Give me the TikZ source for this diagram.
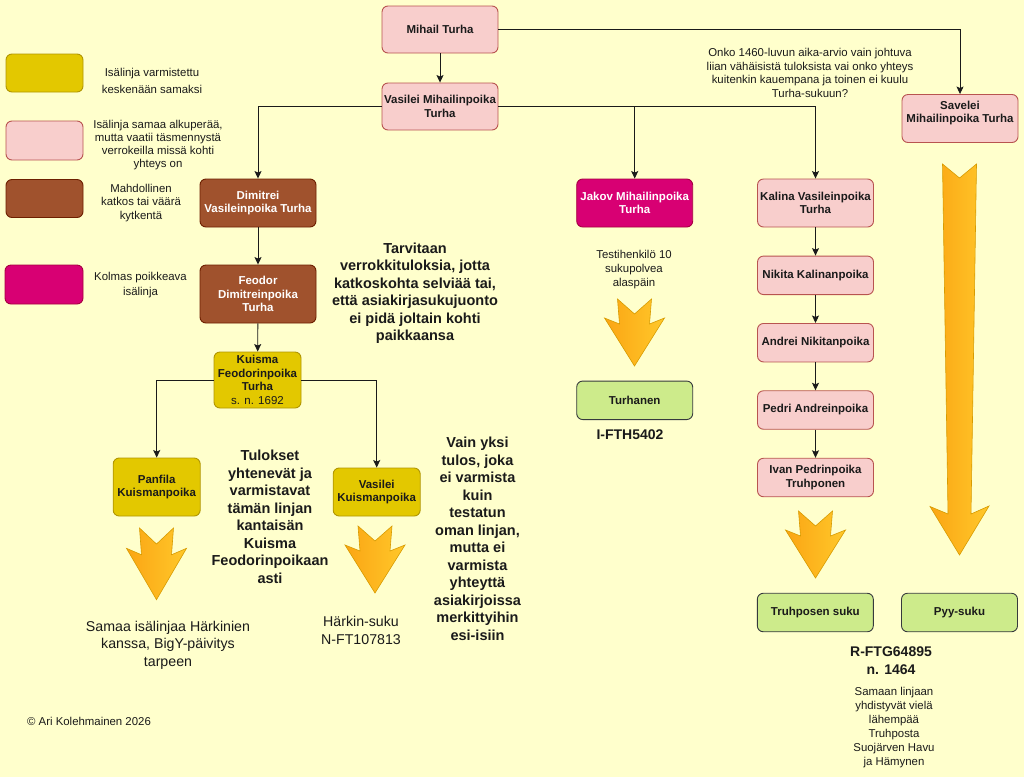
\documentclass[tikz,border=0pt]{standalone}
\usepackage{fontspec}
\setmainfont{Liberation Sans}
\usetikzlibrary{arrows.meta,shadings}
\definecolor{bg}{HTML}{FFFFCC}
\definecolor{pinkF}{HTML}{F8CECC}
\definecolor{pinkD}{HTML}{B85450}
\definecolor{brownF}{HTML}{A0522D}
\definecolor{brownD}{HTML}{6D1F00}
\definecolor{yelF}{HTML}{E3C800}
\definecolor{yelD}{HTML}{B09500}
\definecolor{magF}{HTML}{D80073}
\definecolor{magD}{HTML}{A50040}
\definecolor{grnF}{HTML}{CDEB8B}
\definecolor{grnD}{HTML}{36393D}
\definecolor{arrD}{HTML}{D79B00}
\definecolor{arrL}{HTML}{FBA514}
\definecolor{arrR}{HTML}{FFC82A}
\definecolor{ink}{HTML}{1A1A1A}
\tikzset{
  box/.style={rectangle, rounded corners=6pt, line width=0.9pt, align=center, inner sep=1pt,
    text=ink, font=\bfseries\fontsize{11.5}{13.5}\selectfont},
  pinkbox/.style={box, fill=pinkF, draw=pinkD},
  brownbox/.style={box, fill=brownF, draw=brownD, text=white},
  yelbox/.style={box, fill=yelF, draw=yelD},
  magbox/.style={box, fill=magF, draw=magD, text=white},
  grnbox/.style={box, fill=grnF, draw=grnD},
  wide/.style={minimum width=116pt},
  narrow/.style={minimum width=87pt},
  conn/.style={line width=0.9pt, draw=ink, -{Stealth[length=7.5pt,width=7pt,inset=1.5pt]}},
  note/.style={align=center, inner sep=0pt, text=ink, font=\fontsize{11.4}{13.5}\selectfont},
  bignote/.style={align=center, inner sep=0pt, text=ink, font=\bfseries\fontsize{14.5}{17.5}\selectfont},
  midnote/.style={align=center, inner sep=0pt, text=ink, font=\fontsize{14.2}{17.5}\selectfont},
  blockarrow/.style={draw=arrD, line width=0.6pt, left color=arrL, right color=arrR},
  downchev/.pic={
    \path[blockarrow] (-17,0) -- (0,15) -- (17,0) -- (15,25) -- (30,19) -- (0,67)
      -- (-30,19) -- (-15,25) -- cycle;
  }
}
\begin{document}
\begin{tikzpicture}[x=1pt,y=-1pt]
\useasboundingbox (0,0) rectangle (1024,777);
\fill[bg] (0,0) rectangle (1024,777);

% legend
\node[yelbox, minimum width=77pt, minimum height=38pt] (leg1) at (44.5,73) {};
\node[pinkbox, minimum width=77pt, minimum height=39pt] (leg2) at (44.5,140.5) {};
\node[brownbox, minimum width=77pt, minimum height=38pt] (leg3) at (44.5,198.5) {};
\node[magbox, minimum width=78pt, minimum height=39pt] (leg4) at (44,284.5) {};
\node[note, font=\fontsize{11.4}{17}\selectfont] (leg1t) at (152,80.5) {Isälinja varmistettu\\keskenään samaksi};
\node[note, font=\fontsize{11.4}{12.8}\selectfont] (leg2t) at (158,145) {Isälinja samaa alkuperää,\\mutta vaatii täsmennystä\\verrokeilla missä kohti\\yhteys on};
\node[note, font=\fontsize{11.4}{13.5}\selectfont] (leg3t) at (141,203) {Mahdollinen\\katkos tai väärä\\kytkentä};
\node[note, font=\fontsize{11.4}{14.5}\selectfont] (leg4t) at (140.5,285) {Kolmas poikkeava\\isälinja};

% tree nodes
\node[pinkbox, wide, minimum height=47pt] (mihail) at (440,29.5) {Mihail Turha};
\node[pinkbox, wide, minimum height=47pt] (vasilei) at (440,106.5) {Vasilei Mihailinpoika\\Turha};
\node[pinkbox, wide, minimum height=48pt] (savelei) at (960,118.5) {Savelei\\Mihailinpoika Turha\\\mbox{}};
\node[brownbox, wide, minimum height=48pt] (dimitrei) at (258,203) {Dimitrei\\Vasileinpoika Turha};
\node[brownbox, wide, minimum height=58pt] (feodor) at (258,294) {Feodor\\Dimitreinpoika\\Turha};
\node[yelbox, narrow, minimum height=56pt] (kuisma) at (257.5,380) {Kuisma\\Feodorinpoika\\Turha\\{\mdseries s. n. 1692}};
\node[yelbox, narrow, minimum height=58pt] (panfila) at (156.7,487) {Panfila\\Kuismanpoika};
\node[yelbox, narrow, minimum height=48pt] (vasileik) at (376.7,492) {Vasilei\\Kuismanpoika};
\node[magbox, wide, minimum height=48pt] (jakov) at (634.7,203) {Jakov Mihailinpoika\\Turha};
\node[pinkbox, wide, minimum height=48pt] (kalina) at (815.5,203) {Kalina Vasileinpoika\\Turha};
\node[pinkbox, wide, minimum height=38.5pt] (nikita) at (815.5,275.3) {Nikita Kalinanpoika};
\node[pinkbox, wide, minimum height=38.5pt] (andrei) at (815.5,342.7) {Andrei Nikitanpoika};
\node[pinkbox, wide, minimum height=38.5pt] (pedri) at (815.5,410) {Pedri Andreinpoika};
\node[pinkbox, wide, minimum height=38.5pt] (ivan) at (815.5,477.5) {Ivan Pedrinpoika\\Truhponen};
\node[grnbox, wide, minimum height=38.5pt] (turhanen) at (634.7,400.3) {Turhanen};
\node[grnbox, wide, minimum height=38.5pt] (truhposen) at (815.3,612.5) {Truhposen suku};
\node[grnbox, wide, minimum height=38.5pt] (pyy) at (959.5,612.5) {Pyy-suku};

% connectors
\draw[conn] (mihail) -- (vasilei);
\draw[conn] (mihail.east) -| (savelei.north);
\draw[conn] (vasilei.west) -| (dimitrei.north);
\draw[conn] (vasilei.east) -| (jakov.north);
\draw[conn] (vasilei.east) -| (kalina.north);
\draw[conn] (dimitrei) -- (feodor);
\draw[conn] (feodor) -- (kuisma);
\draw[conn] (kuisma.west) -| (panfila.north);
\draw[conn] (kuisma.east) -| (vasileik.north);
\draw[conn] (kalina) -- (nikita);
\draw[conn] (nikita) -- (andrei);
\draw[conn] (andrei) -- (pedri);
\draw[conn] (pedri) -- (ivan);

% block arrows
\pic at (634.5,299) {downchev};
\pic at (815.5,511) {downchev};
\pic[yscale=1.07] at (156.5,528) {downchev};
\pic at (375,526) {downchev};
\path[blockarrow] (942.5,164) -- (959.5,178) -- (976.5,164) -- (971,514) -- (989,506)
  -- (959.5,555) -- (930,506.5) -- (948,514) -- cycle;

% notes
\node[note] (onko) at (810,73) {Onko 1460-luvun aika-arvio vain johtuva\\liian vähäisistä tuloksista vai onko yhteys\\kuitenkin kauempana ja toinen ei kuulu\\Turha-sukuun?};
\node[bignote] (tarv) at (415,293) {Tarvitaan\\verrokkituloksia, jotta\\katkoskohta selviää tai,\\että asiakirjasukujuonto\\ei pidä joltain kohti\\paikkaansa};
\node[bignote] (tulokset) at (270,517) {Tulokset\\yhtenevät ja\\varmistavat\\tämän linjan\\kantaisän\\Kuisma\\Feodorinpoikaan\\asti};
\node[bignote] (vain) at (477.5,539) {Vain yksi\\tulos, joka\\ei varmista\\kuin\\testatun\\oman linjan,\\mutta ei\\varmista\\yhteyttä\\asiakirjoissa\\merkittyihin\\esi-isiin};
\node[note, font=\fontsize{11.4}{14}\selectfont] (testi) at (634,270) {Testihenkilö 10\\sukupolvea\\alaspäin};
\node[bignote, font=\bfseries\fontsize{14}{17}\selectfont] (ifth) at (630,435) {I-FTH5402};
\node[midnote] (samaa) at (168,645) {Samaa isälinjaa Härkinien\\kanssa, BigY-päivitys\\tarpeen};
\node[midnote] (harkin) at (361,630.5) {Härkin-suku\\N-FT107813};
\node[bignote, font=\bfseries\fontsize{14}{17.7}\selectfont] (rftg) at (891,661) {R-FTG64895\\n. 1464};
\node[note, font=\fontsize{11.4}{13.9}\selectfont] (samaan) at (894,727.5) {Samaan linjaan\\yhdistyvät vielä\\lähempää\\Truhposta\\Suojärven Havu\\ja Hämynen};
\node[note] (copy) at (89,721.7) {© Ari Kolehmainen 2026};
\end{tikzpicture}
\end{document}
